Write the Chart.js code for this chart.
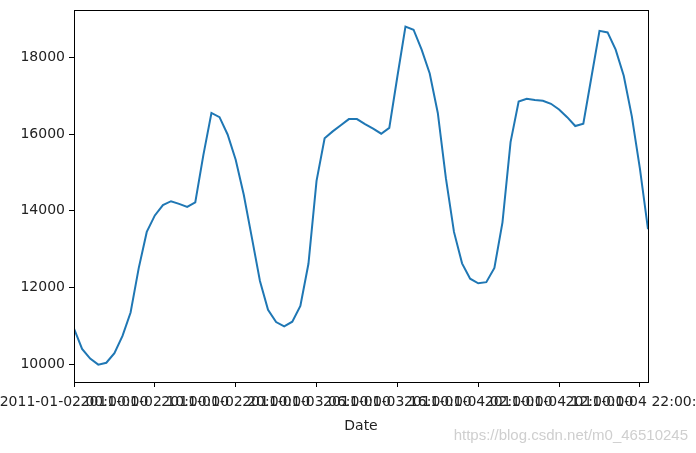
<!DOCTYPE html>
<html>
<head>
<meta charset="utf-8">
<script src="https://cdn.jsdelivr.net/npm/chart.js@4/dist/chart.umd.min.js"></script>
<style>
  html, body { margin: 0; padding: 0; background: #fff; }
  #wrap { position: relative; width: 696px; height: 453px; }
</style>
</head>
<body>
<div id="wrap"><canvas id="chart" width="696" height="453"></canvas></div>
<script>
// Hourly values, one array per day (2011-01-02 .. 2011-01-04, 00:00-23:00)
const day1 = [10930, 10400, 10150, 9990, 10040, 10290, 10740, 11350, 12500, 13450, 13880, 14150,
              14250, 14180, 14100, 14220, 15450, 16550, 16440, 15990, 15330, 14420, 13300, 12170];
const day2 = [11420, 11100, 10990, 11110, 11520, 12620, 14780, 15890, 16070, 16230, 16390, 16390,
              16260, 16140, 16010, 16160, 17500, 18800, 18720, 18200, 17580, 16550, 14850, 13450];
const day3 = [12630, 12230, 12110, 12140, 12510, 13700, 15790, 16850, 16920, 16890, 16870, 16790,
              16640, 16440, 16210, 16270, 17480, 18690, 18650, 18200, 17520, 16460, 15100, 13520];

// x ticks every 10 hours, as pandas/matplotlib labelled them
const tickPositions = [0, 10, 20, 30, 40, 50, 60, 70];
const tickLabels = [
  '2011-01-02 00:00:00', '2011-01-02 10:00:00', '2011-01-02 20:00:00', '2011-01-03 06:00:00',
  '2011-01-03 16:00:00', '2011-01-04 02:00:00', '2011-01-04 12:00:00', '2011-01-04 22:00:00'
];
const yTicks = [10000, 12000, 14000, 16000, 18000];

const values = [...day1, ...day2, ...day3];
const points = values.map((v, i) => ({ x: i, y: v }));

const tickFont = { family: "'DejaVu Sans', sans-serif", size: 14 };

// matplotlib style frame + watermark
const framePlugin = {
  id: 'frame',
  afterDraw(chart) {
    const { ctx, chartArea: a } = chart;
    ctx.save();
    ctx.strokeStyle = '#000';
    ctx.lineWidth = 1;
    ctx.strokeRect(Math.round(a.left) + 0.5, Math.round(a.top) + 0.5,
      Math.round(a.right - a.left), Math.round(a.bottom - a.top));
    ctx.fillStyle = '#cfcfcf';
    ctx.font = "15px 'Liberation Sans', Arial, sans-serif";
    ctx.textAlign = 'right';
    ctx.textBaseline = 'middle';
    ctx.fillText('https://blog.csdn.net/m0_46510245', 688, 436);
    ctx.restore();
  }
};

new Chart(document.getElementById('chart'), {
  type: 'line',
  data: {
    datasets: [{
      data: points,
      borderColor: '#1f77b4',
      borderWidth: 2,
      pointRadius: 0,
      tension: 0,
      fill: false
    }]
  },
  options: {
    responsive: false,
    animation: false,
    layout: { padding: { top: 10, right: 48, left: 0, bottom: 0 } },
    plugins: {
      legend: { display: false },
      tooltip: { enabled: false }
    },
    scales: {
      x: {
        type: 'linear',
        min: 0,
        max: 71,
        border: { display: false },
        grid: { drawOnChartArea: false, drawTicks: true, tickLength: 5, tickColor: '#000', tickWidth: 1 },
        afterBuildTicks: s => { s.ticks = tickPositions.map(v => ({ value: v })); },
        afterFit: s => { s.height = 71; s.paddingLeft = 0; s.paddingRight = 0; },
        ticks: {
          autoSkip: false,
          maxRotation: 0,
          minRotation: 0,
          padding: 7,
          color: '#222',
          font: tickFont,
          callback: v => tickLabels[tickPositions.indexOf(v)]
        },
        title: {
          display: true,
          text: 'Date',
          color: '#222',
          font: tickFont,
          padding: { top: 4, bottom: 18 }
        }
      },
      y: {
        min: 9538,
        max: 19234,
        border: { display: false },
        grid: { drawOnChartArea: false, drawTicks: true, tickLength: 5, tickColor: '#000', tickWidth: 1 },
        afterBuildTicks: s => { s.ticks = yTicks.map(v => ({ value: v })); },
        afterFit: s => { s.width = 74; s.paddingTop = 0; s.paddingBottom = 0; },
        ticks: {
          padding: 4,
          color: '#222',
          font: tickFont,
          callback: v => String(v)
        }
      }
    }
  },
  plugins: [framePlugin]
});
</script>
</body>
</html>
